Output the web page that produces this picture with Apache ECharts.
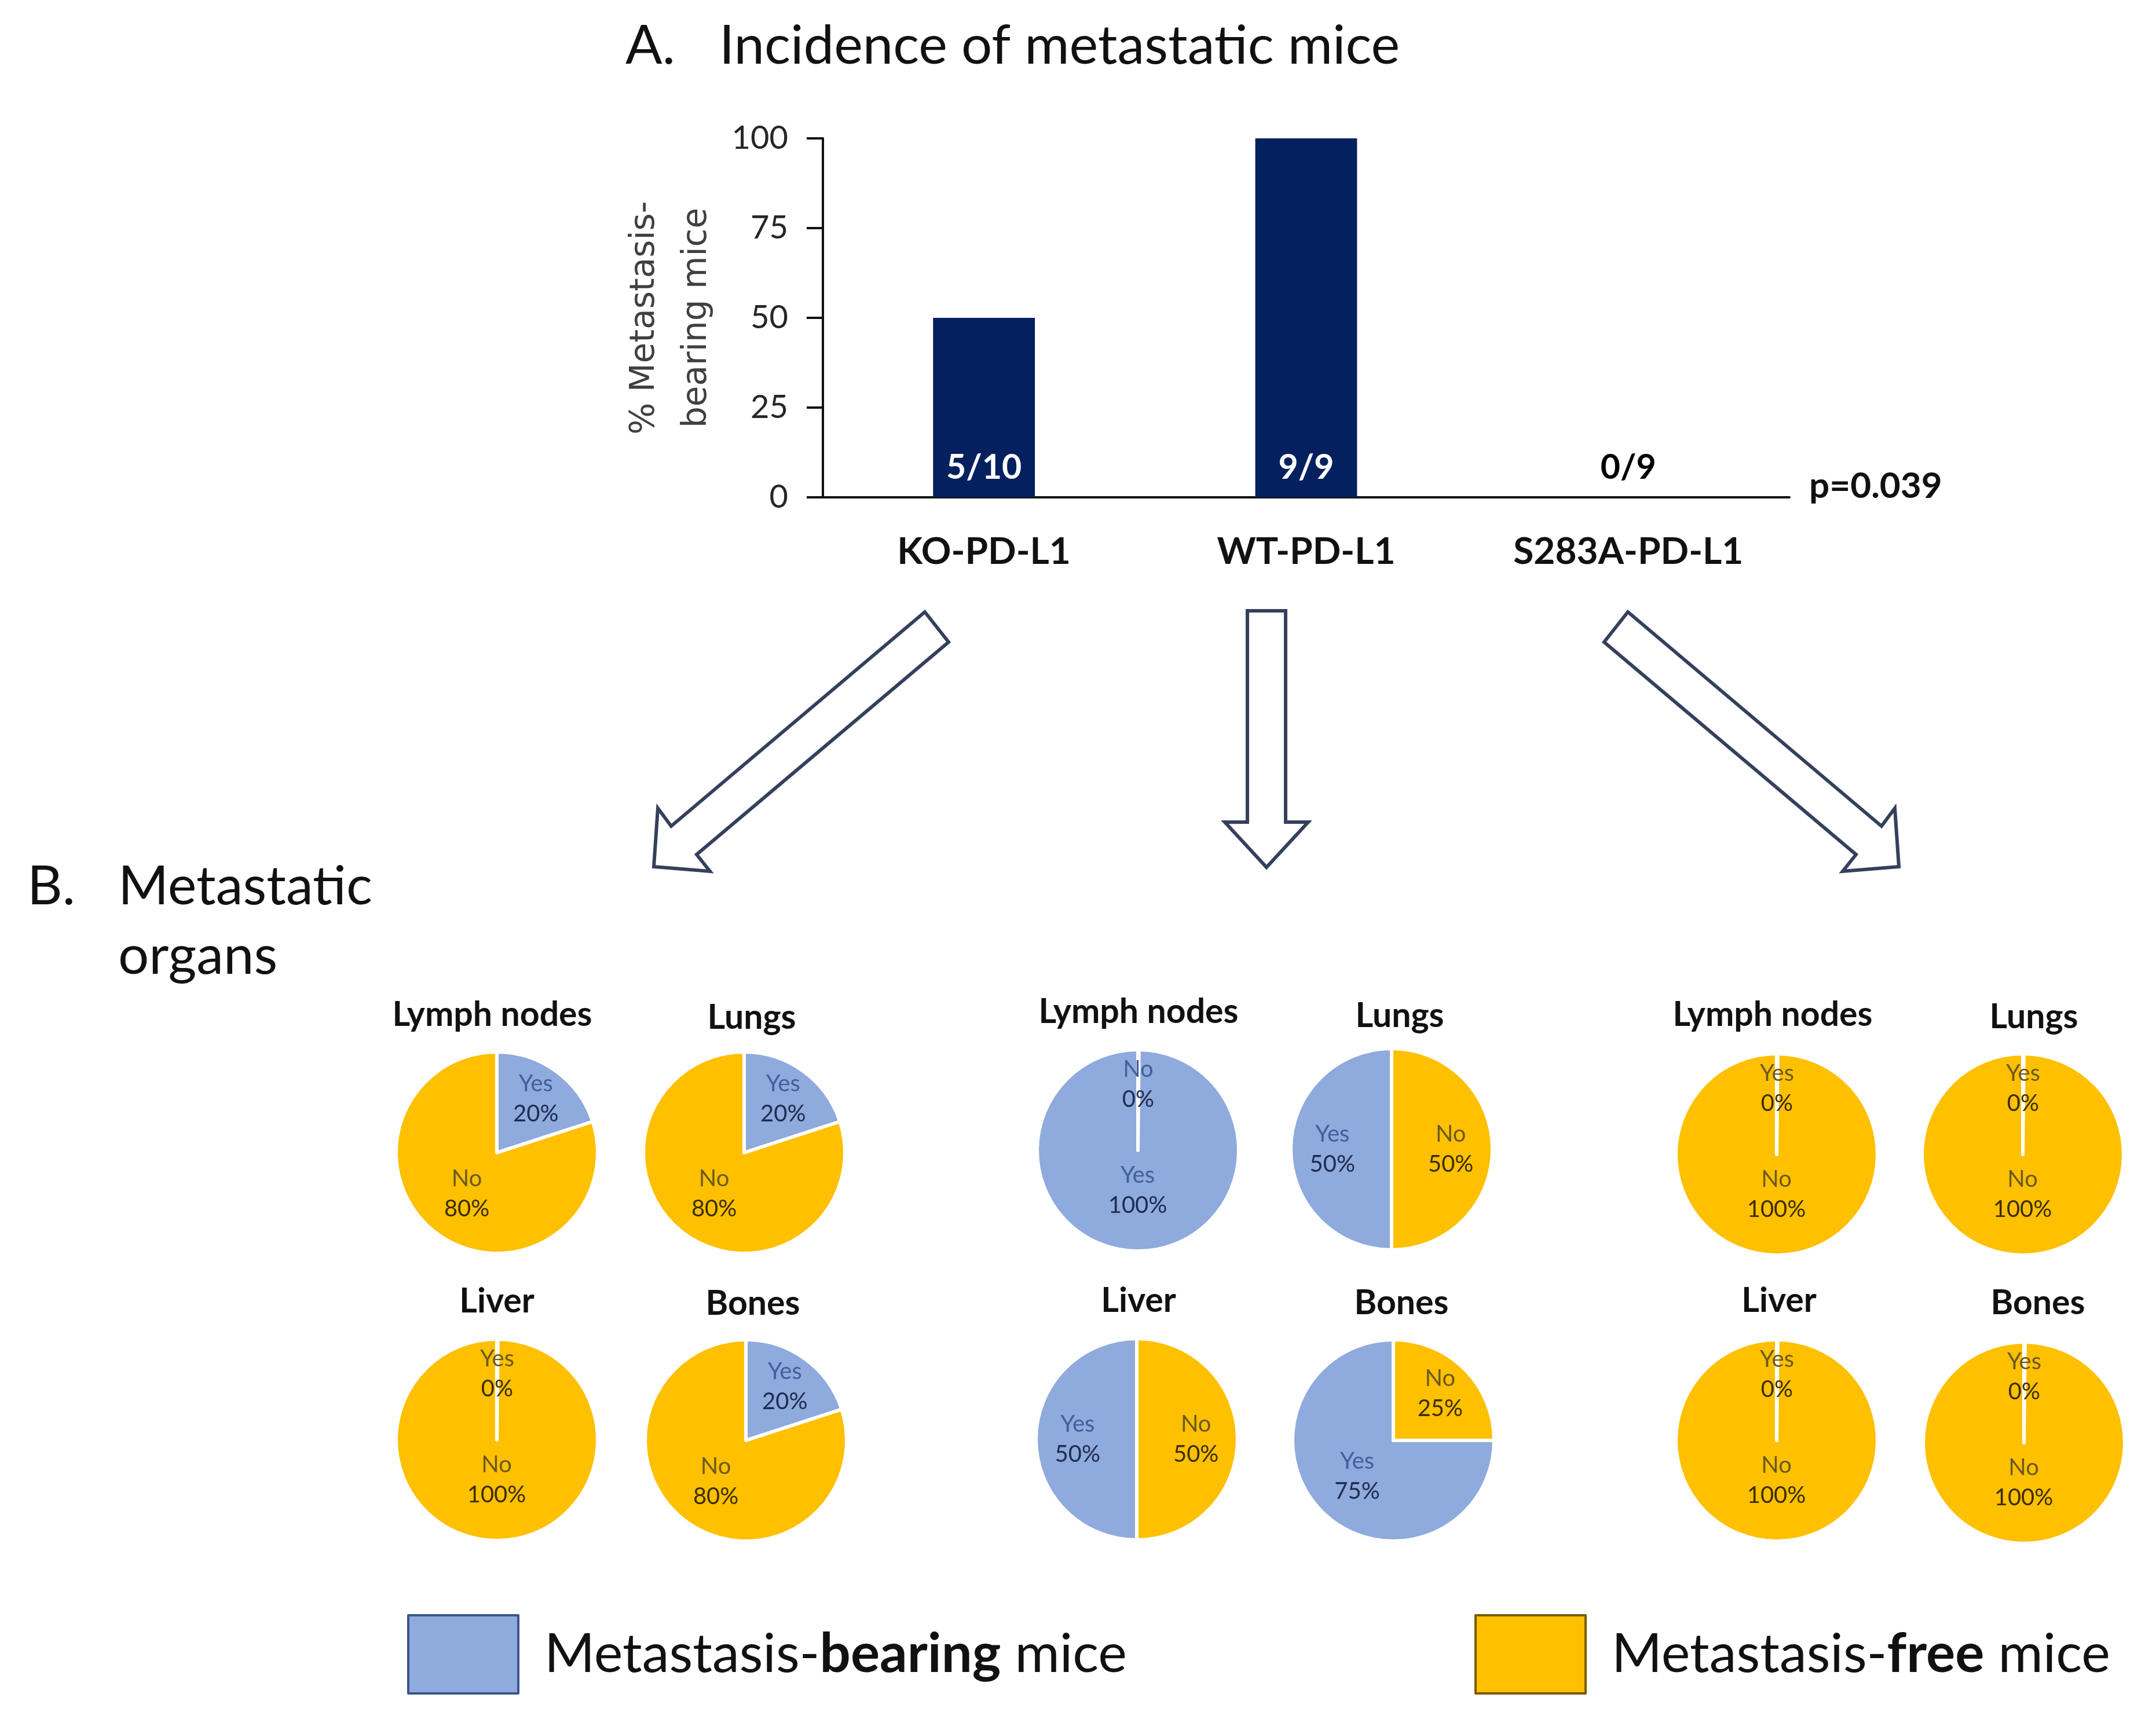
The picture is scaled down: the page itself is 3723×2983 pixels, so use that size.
<!DOCTYPE html>
<html><head><meta charset="utf-8">
<script src="https://cdn.jsdelivr.net/npm/echarts@6/dist/echarts.min.js"></script>
<style>html,body{margin:0;padding:0;background:#fff}#c{width:3723px;height:2983px}</style>
</head><body><div id="c"></div>
<script>
// ---------- data ----------
const groups = ['KO-PD-L1', 'WT-PD-L1', 'S283A-PD-L1'];
const barValues = [50, 100, 0];
const barLabels = ['5/10', '9/9', '0/9'];
const yTicks = [0, 25, 50, 75, 100];
const pValue = 'p=0.039';
const organs = ['Lymph nodes', 'Lungs', 'Liver', 'Bones'];
const koYes = [20, 20, 0, 20];
const koNo = [80, 80, 100, 80];
const wtYes = [100, 50, 50, 75];
const wtNo = [0, 50, 50, 25];
const s283aYes = [0, 0, 0, 0];
const s283aNo = [100, 100, 100, 100];
const sliceOrder = [['Yes', 'No'], ['No', 'Yes'], ['Yes', 'No']];
const legendNames = ['Yes', 'No'];

// ---------- layout / style ----------
const FONT = 'Lato';
const BLUE = '#8FAADC', YELLOW = '#FFC000';
const colorOf = { Yes: BLUE, No: YELLOW };
const labelCol = {
  Yes: { n: '#41609e', v: '#1f2c50' },
  No: { n: '#6b5a1e', v: '#3b2e00' }
};
const groupData = [[koYes, koNo], [wtYes, wtNo], [s283aYes, s283aNo]];
const pieCenters = [
  [[858, 1991], [1285, 1991], [858, 2487], [1288, 2488]],
  [[1965, 1987], [2403, 1985], [1963, 2486], [2406, 2488]],
  [[3068, 1994], [3493, 1994], [3068, 2488], [3495, 2492]]
];
const titlePos = [
  [[850, 1753], [1298, 1758], [858, 2248], [1300, 2252]],
  [[1966, 1748], [2417, 1755], [1966, 2247], [2420, 2251]],
  [[3061, 1753], [3512, 1757], [3072, 2247], [3519, 2251]]
];
const R = 174;
// radial position of the inside label (fraction of radius), smaller slices further out
function labelRadiusFrac(share) {
  if (share <= 0.25) return 0.64;
  if (share <= 0.5) return 0.57;
  if (share <= 0.8) return 0.49;
  return 0.38;
}

const series = [];
series.push({
  type: 'bar',
  data: barValues.map((v, i) => ({ value: v, label: { color: v > 0 ? '#ffffff' : '#000000' } })),
  barWidth: '31.6%',
  itemStyle: { color: '#04205f' },
  silent: true,
  label: {
    show: true, position: 'insideBottom', distance: 22,
    formatter: p => barLabels[p.dataIndex],
    fontFamily: FONT, fontWeight: 'bold', fontSize: 59
  }
});

const graphics = [];
groups.forEach((g, gi) => {
  const [yesArr, noArr] = groupData[gi];
  organs.forEach((org, oi) => {
    const vals = { Yes: yesArr[oi], No: noArr[oi] };
    const total = vals.Yes + vals.No;
    let cum = 0;
    const data = sliceOrder[gi].map(n => {
      const other = n === 'Yes' ? 'No' : 'Yes';
      const bg = vals[n] > 0 ? n : other;
      const share = vals[n] / total;
      const mid = (cum + share / 2) * 2 * Math.PI;
      cum += share;
      const f = labelRadiusFrac(share);
      const shift = (f - 0.5) * R;
      return {
        name: n, value: vals[n],
        itemStyle: { color: colorOf[n] },
        label: {
          offset: [shift * Math.sin(mid), -shift * Math.cos(mid)],
          rich: {
            n: { fontFamily: FONT, fontSize: 40, lineHeight: 52, color: labelCol[bg].n },
            v: { fontFamily: FONT, fontSize: 40, lineHeight: 52, color: labelCol[bg].v }
          }
        }
      };
    });
    series.push({
      type: 'pie',
      center: pieCenters[gi][oi],
      radius: R,
      startAngle: 90,
      clockwise: true,
      minAngle: 0.6,
      percentPrecision: 0,
      avoidLabelOverlap: false,
      silent: true,
      emphasis: { disabled: true },
      itemStyle: { borderColor: '#ffffff', borderWidth: 6 },
      label: { show: true, position: 'inside', formatter: '{n|{b}}\n{v|{d}%}' },
      labelLine: { show: false },
      data
    });
    graphics.push({
      type: 'text',
      x: titlePos[gi][oi][0], y: titlePos[gi][oi][1],
      style: { text: org, fontFamily: FONT, fontWeight: 'bold', fontSize: 59, fill: '#111', textAlign: 'center', textVerticalAlign: 'middle' }
    });
  });
});

// headings
const headStyle = { fontFamily: FONT, fontSize: 94, fill: '#111', textVerticalAlign: 'middle' };
graphics.push({ type: 'text', x: 1080, y: 80, style: Object.assign({ text: 'A.' }, headStyle) });
graphics.push({ type: 'text', x: 1242, y: 80, style: Object.assign({ text: 'Incidence of metastatic mice' }, headStyle) });
graphics.push({ type: 'text', x: 47, y: 1532, style: Object.assign({ text: 'B.' }, headStyle) });
graphics.push({ type: 'text', x: 204, y: 1532, style: Object.assign({ text: 'Metastatic' }, headStyle) });
graphics.push({ type: 'text', x: 204, y: 1652, style: Object.assign({ text: 'organs' }, headStyle) });
graphics.push({ type: 'text', x: 3124, y: 840, style: { text: pValue, fontFamily: FONT, fontWeight: 'bold', fontSize: 62, fill: '#111', textVerticalAlign: 'middle' } });

// arrows
const arrowStyle = { fill: '#ffffff', stroke: '#34405c', lineWidth: 6, lineJoin: 'miter' };
graphics.push({ type: 'polygon', shape: { points: [[1597, 1057], [1638, 1109], [1203, 1476], [1226, 1505], [1129, 1497], [1136, 1396], [1159, 1427]] }, style: arrowStyle });
graphics.push({ type: 'polygon', shape: { points: [[2811, 1057], [2770, 1109], [3205, 1476], [3182, 1505], [3279, 1497], [3272, 1396], [3249, 1427]] }, style: arrowStyle });
graphics.push({ type: 'polygon', shape: { points: [[2154, 1055], [2220, 1055], [2220, 1420], [2259, 1420], [2187, 1498], [2115, 1420], [2154, 1420]] }, style: arrowStyle });

const legendText = {
  Yes: 'Metastasis-{b|bearing} mice',
  No: 'Metastasis-{b|free} mice'
};
const legendBorder = { Yes: '#3b5589', No: '#7a5c00' };
const legendLeft = [698, 2541];
const legends = legendNames.map((n, i) => ({
  data: [n],
  left: legendLeft[i], top: 2783,
  orient: 'horizontal',
  icon: 'rect',
  itemWidth: 190, itemHeight: 135,
  selectedMode: false,
  itemStyle: { borderColor: legendBorder[n], borderWidth: 4 },
  formatter: name => legendText[name],
  textStyle: {
    fontFamily: FONT, fontSize: 94, color: '#111', padding: [0, 0, 0, 40],
    rich: { b: { fontFamily: FONT, fontSize: 94, fontWeight: 'bold', color: '#111' } }
  }
}));

const chart = echarts.init(document.getElementById('c'), null, { renderer: 'canvas' });
chart.setOption({
  backgroundColor: '#ffffff',
  animation: false,
  grid: { left: 1421, right: 633, top: 239, bottom: 2124, containLabel: false },
  xAxis: {
    type: 'category', data: groups,
    axisLine: { lineStyle: { color: '#111', width: 4 } },
    axisTick: { show: false },
    axisLabel: { margin: 62, fontFamily: FONT, fontWeight: 'bold', fontSize: 64, color: '#111' }
  },
  yAxis: {
    type: 'value',
    min: yTicks[0], max: yTicks[yTicks.length - 1], interval: yTicks[1] - yTicks[0],
    splitLine: { show: false },
    axisLine: { show: true, lineStyle: { color: '#111', width: 4 } },
    axisTick: { show: true, length: 28, lineStyle: { color: '#111', width: 4 } },
    axisLabel: { margin: 60, fontFamily: FONT, fontSize: 56, color: '#262626' },
    name: '% Metastasis-\nbearing mice',
    nameLocation: 'middle', nameRotate: 90, nameGap: 172,
    nameTextStyle: { fontFamily: 'DejaVu Sans', fontSize: 58, color: '#404040', lineHeight: 90 }
  },
  legend: legends,
  series,
  graphic: graphics
});
</script></body></html>
